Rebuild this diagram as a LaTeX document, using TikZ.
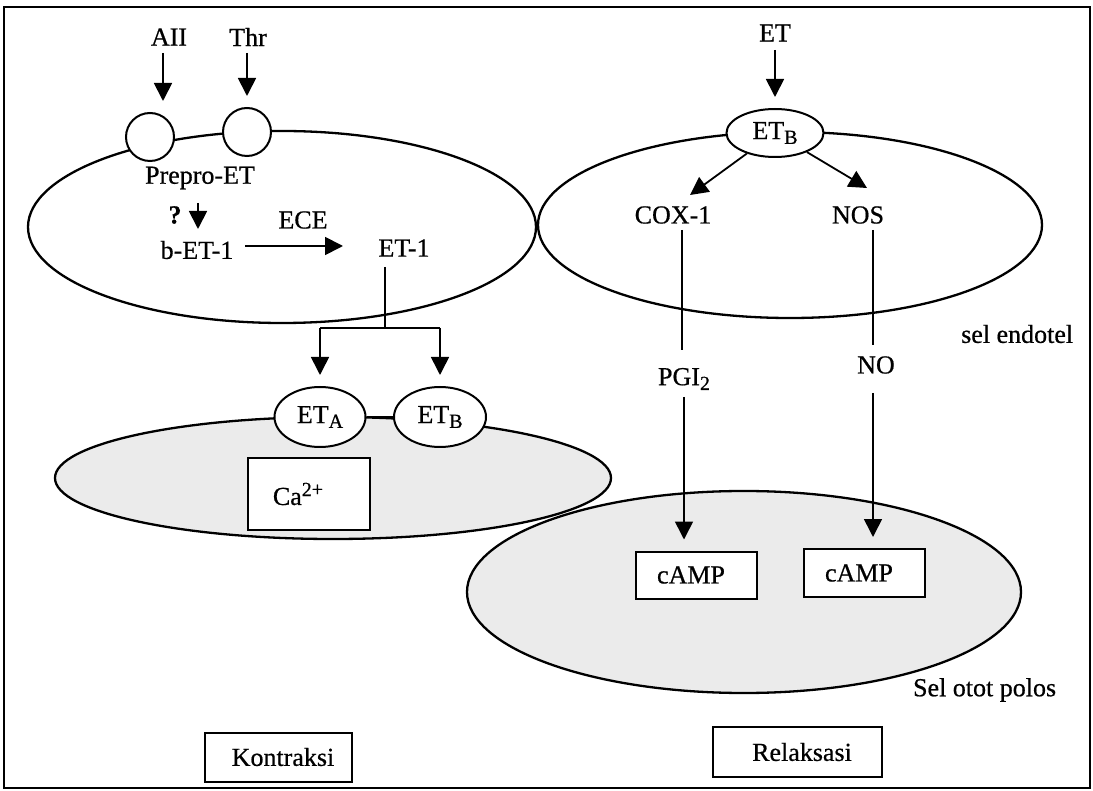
\documentclass[tikz,border=0pt]{standalone}
\usepackage{fontspec}
\setmainfont{Liberation Serif}
\newfontfamily\dfont{Liberation Serif}[FakeBold=0.6]
\usetikzlibrary{arrows.meta,shapes.geometric}
\newcommand{\sub}[1]{\raisebox{-0.4ex}{\fontsize{20}{20}\selectfont #1}}
\newcommand{\sups}[1]{\raisebox{0.75ex}{\fontsize{20}{20}\selectfont #1}}
\begin{document}
\begin{tikzpicture}[x=1pt,y=-1pt,
  line width=1.8pt,
  every node/.style={font=\dfont\fontsize{26}{30}\selectfont},
  lbl/.style={inner sep=0pt},
  recep/.style={draw,ellipse,fill=white,inner sep=0pt,line width=2pt},
  cellline/.style={draw,line width=2.3pt},
  cellfill/.style={fill=black!8},
  box/.style={draw,line width=2pt,fill=white,inner sep=0pt},
  tip/.style={-{Triangle[length=18pt,width=18pt]}},
  arr/.style={tip,shorten >=11pt},
  thin/.style={line width=1.6pt}]
\useasboundingbox (0,0) rectangle (1093,791);
% frame
\draw[line width=2.6pt] (4,7) rectangle (1090,788);

% smooth muscle cells: fills first, outlines after
\path[cellfill] (333,478) ellipse [x radius=278, y radius=61];
\path[cellfill] (744,592) ellipse [x radius=277, y radius=101];
\draw[cellline] (333,478) ellipse [x radius=278, y radius=61];
\draw[cellline] (744,592) ellipse [x radius=277, y radius=101];

% endothelial cells
\draw[cellline] (282,227) ellipse [x radius=254, y radius=96];
\draw[cellline] (790,225) ellipse [x radius=252, y radius=93];

% left endothelial cell
\node[lbl] (aii) at (169,37) {AII};
\node[lbl] (thr) at (248,37) {Thr};
\node[draw,circle,fill=white,minimum size=48pt,inner sep=0pt,line width=2pt] (c1) at (150,137) {};
\node[draw,circle,fill=white,minimum size=48pt,inner sep=0pt,line width=2pt] (c2) at (247,132) {};
\coordinate (aiis) at (163,53);
\draw[arr] (aiis) -- (c1.north -| aiis);
\coordinate (thrs) at (247,53);
\draw[arr] (thrs) -- (c2.north);
\node[lbl] (pre) at (200,178) {Prepro-ET};
\node[lbl] (q) at (175,215) {\textbf{?}};
\coordinate (qa) at (198,203);
\coordinate (qb) at (198,229);
\draw[tip] (qa) -- (qb);
\node[lbl] (bet) at (197,250) {b-ET-1};
\node[lbl] (ece) at (303,220) {ECE};
\node[lbl] (et1) at (404,248) {ET-1};
\coordinate (ecetip) at (343,246);
\draw[tip] (bet.east |- ecetip) ++(11,0) -- (ecetip);
\coordinate (et1s) at (385,267);
\coordinate (split) at (385,328);
\coordinate (spl) at (320,328);
\coordinate (spr) at (440,328);
\node[recep,minimum width=91pt,minimum height=60pt] (eta) at (320,417) {ET\sub{A}};
\node[recep,minimum width=92pt,minimum height=60pt] (etb1) at (440,417) {ET\sub{B}};
\draw[thin] (eta) -- (etb1);
\draw[thin] (et1s) -- (split);
\draw[thin] (spl) -- (spr);
\draw[arr,thin] (spl) -- (eta.north);
\draw[arr,thin] (spr) -- (etb1.north);
\node[box,minimum width=122pt,minimum height=72pt] (ca) at (309,494) {\hspace*{-22pt}Ca\sups{2+}};

% right endothelial cell
\node[lbl] (et) at (775,33) {ET};
\node[recep,minimum width=97pt,minimum height=48pt] (etb) at (775,133) {ET\sub{B}};
\coordinate (ets) at (775,50);
\draw[arr] (ets) -- (etb.north);
\node[lbl] (cox) at (673,215) {COX-1};
\node[lbl] (nos) at (858,215) {NOS};
\coordinate (coxtip) at (690,195);
\coordinate (nostip) at (867,188);
\draw[tip] (etb) -- (coxtip);
\draw[tip] (etb) -- (nostip);
\node[lbl] (pgi) at (684,379) {PGI\sub{2}};
\node[lbl] (no) at (876,365) {NO};
\coordinate (coxs) at (682,230);
\coordinate (coxe) at (682,350);
\coordinate (noss) at (873,230);
\coordinate (nose) at (873,345);
\draw[thin] (coxs) -- (coxe);
\draw[thin] (noss) -- (nose);
\node[box,minimum width=121pt,minimum height=47pt] (camp1) at (696,575) {\hspace*{-10pt}cAMP};
\node[box,minimum width=121pt,minimum height=48pt] (camp2) at (864,573) {\hspace*{-10pt}cAMP};
\coordinate (pgis) at (684,397);
\coordinate (nos2) at (873,393);
\draw[arr,thin] (pgis) -- (camp1.north -| pgis);
\draw[arr,thin] (nos2) -- (camp2.north -| nos2);

% labels
\node[lbl,anchor=east] (endo) at (1074,334) {sel endotel};
\node[lbl,anchor=east] (smc) at (1057,690) {Sel otot polos};
\node[box,minimum width=147pt,minimum height=49pt] (kon) at (278,757) {\hspace*{10pt}Kontraksi};
\node[box,minimum width=169pt,minimum height=50pt] (rel) at (797,752) {\hspace*{10pt}Relaksasi};
\end{tikzpicture}
\end{document}
